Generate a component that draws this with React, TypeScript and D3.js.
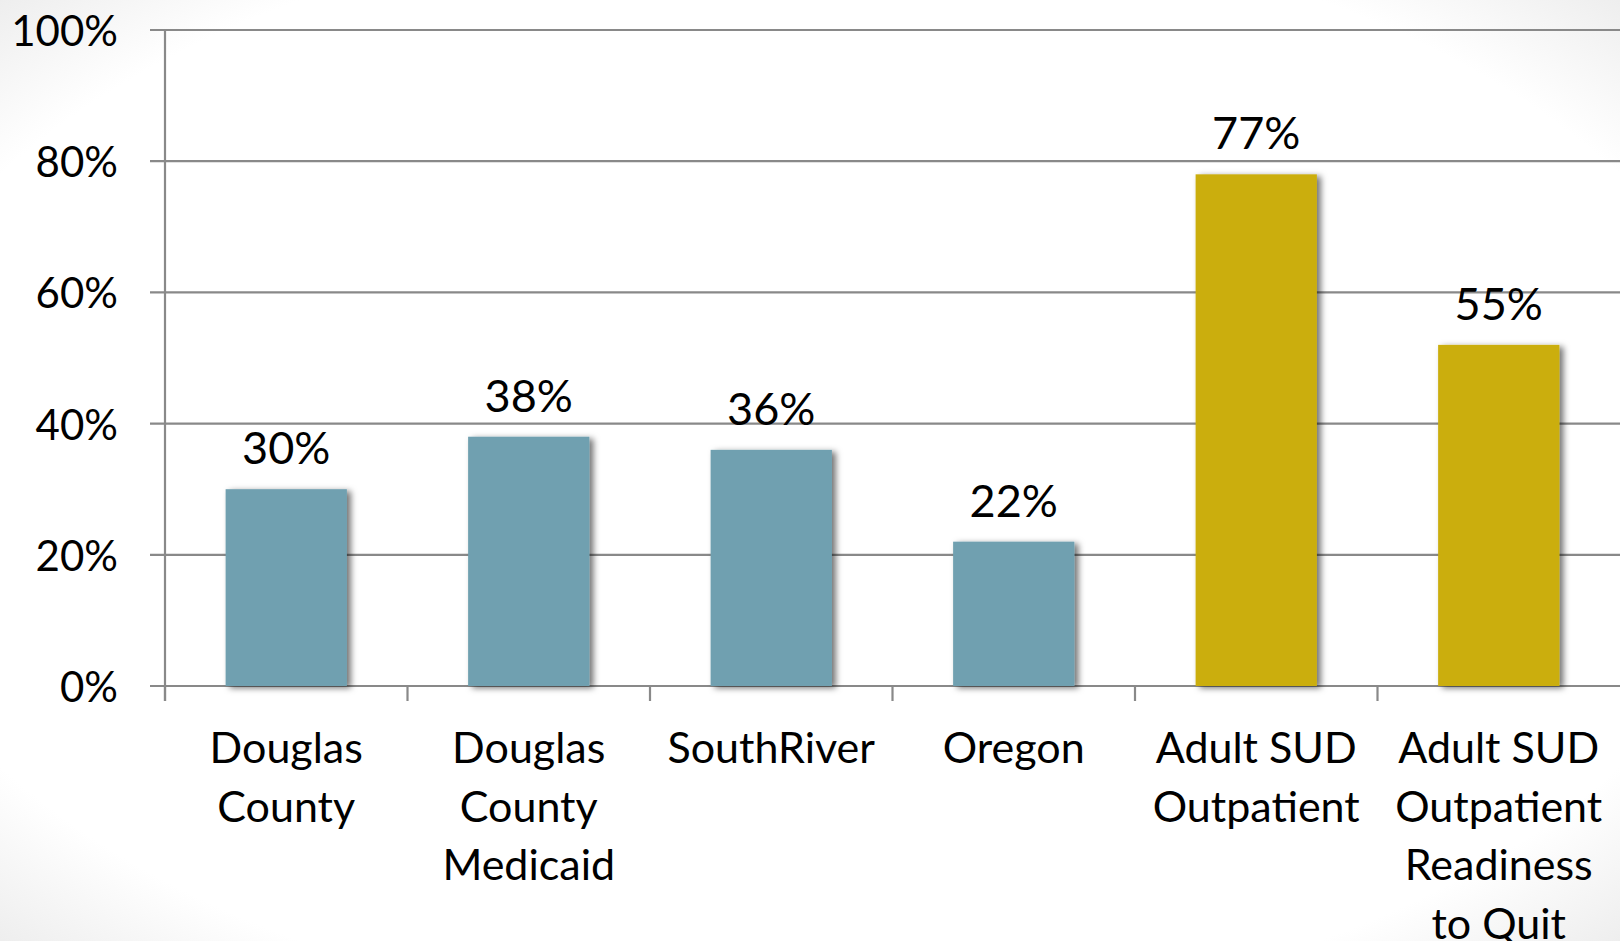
import React from 'react';
import * as d3 from 'd3';

// chart data
const categories = ['Douglas County', 'Douglas County Medicaid', 'SouthRiver', 'Oregon', 'Adult SUD Outpatient', 'Adult SUD Outpatient Readiness to Quit'];
const categoryLines = [
  ['Douglas', 'County'],
  ['Douglas', 'County', 'Medicaid'],
  ['SouthRiver'],
  ['Oregon'],
  ['Adult SUD', 'Outpatient'],
  ['Adult SUD', 'Outpatient', 'Readiness', 'to Quit'],
];
// bar heights as drawn, labels as printed
const values = [0.30, 0.38, 0.36, 0.22, 0.78, 0.52];
const valueLabels = ['30%', '38%', '36%', '22%', '77%', '55%'];
const groups = ['county', 'county', 'county', 'county', 'sud', 'sud'];
const yTicks = [0, 0.2, 0.4, 0.6, 0.8, 1];

const W = 1620;
const H = 941;
const margin = { top: 30, right: 0, bottom: 255, left: 165 };
const FONT = 'Lato, "Open Sans", sans-serif';
const AXIS = '#898989';

const App: React.FC = () => {
  const x = d3.scaleBand<string>()
    .domain(categories)
    .range([margin.left, W - margin.right])
    .padding(0);

  const y = d3.scaleLinear()
    .domain([0, 1])
    .range([H - margin.bottom, margin.top]);

  const color = d3.scaleOrdinal<string, string>()
    .domain(['county', 'sud'])
    .range(['#6fa0b0', '#cbae0c']);

  const bw = x.bandwidth();
  const barW = bw * 0.5;
  const y0 = y(0);

  return (
    <svg width={W} height={H} style={{ position: 'absolute', left: 0, top: 0, display: 'block' }}>
      <defs>
        <radialGradient id="bg" cx="50%" cy="50%" r="72%">
          <stop offset="0.82" stopColor="#ffffff" />
          <stop offset="1" stopColor="#ececec" />
        </radialGradient>
        <filter id="shadow" x="-20%" y="-20%" width="140%" height="140%">
          <feDropShadow dx="4" dy="2" stdDeviation="3" floodColor="#000" floodOpacity="0.55" />
        </filter>
      </defs>
      <rect x={0} y={0} width={W} height={H} fill="url(#bg)" />

      {/* gridlines + y ticks */}
      {yTicks.map(t => (
        <g key={t}>
          <line x1={margin.left - 15} x2={W} y1={y(t)} y2={y(t)} stroke={AXIS} strokeWidth={2.2} />
          <text x={118} y={y(t)} textAnchor="end" dominantBaseline="central"
            fontFamily={FONT} fontSize={42} fill="#000">{d3.format('.0%')(t)}</text>
        </g>
      ))}

      {/* y axis line */}
      <line x1={margin.left} x2={margin.left} y1={y(1)} y2={y0 + 15} stroke={AXIS} strokeWidth={2.2} />

      {/* x ticks */}
      {categories.map(c => (
        <line key={c} x1={x(c)!} x2={x(c)!} y1={y0} y2={y0 + 15} stroke={AXIS} strokeWidth={2.2} />
      ))}

      {/* bars */}
      {categories.map((c, i) => (
        <rect key={c}
          x={x(c)! + (bw - barW) / 2}
          y={y(values[i])}
          width={barW}
          height={y0 - y(values[i])}
          fill={color(groups[i])}
          filter="url(#shadow)" />
      ))}

      {/* value labels */}
      {categories.map((c, i) => (
        <text key={c} x={x(c)! + bw / 2} y={y(values[i]) - 25} textAnchor="middle"
          fontFamily={FONT} fontSize={45} fill="#000">{valueLabels[i]}</text>
      ))}

      {/* category labels */}
      {categories.map((c, i) => (
        <text key={c} textAnchor="middle" fontFamily={FONT} fontSize={43} fill="#000">
          {categoryLines[i].map((line, j) => (
            <tspan key={j} x={x(c)! + bw / 2} y={763 + j * 58.5}>{line}</tspan>
          ))}
        </text>
      ))}
    </svg>
  );
};

export default App;
